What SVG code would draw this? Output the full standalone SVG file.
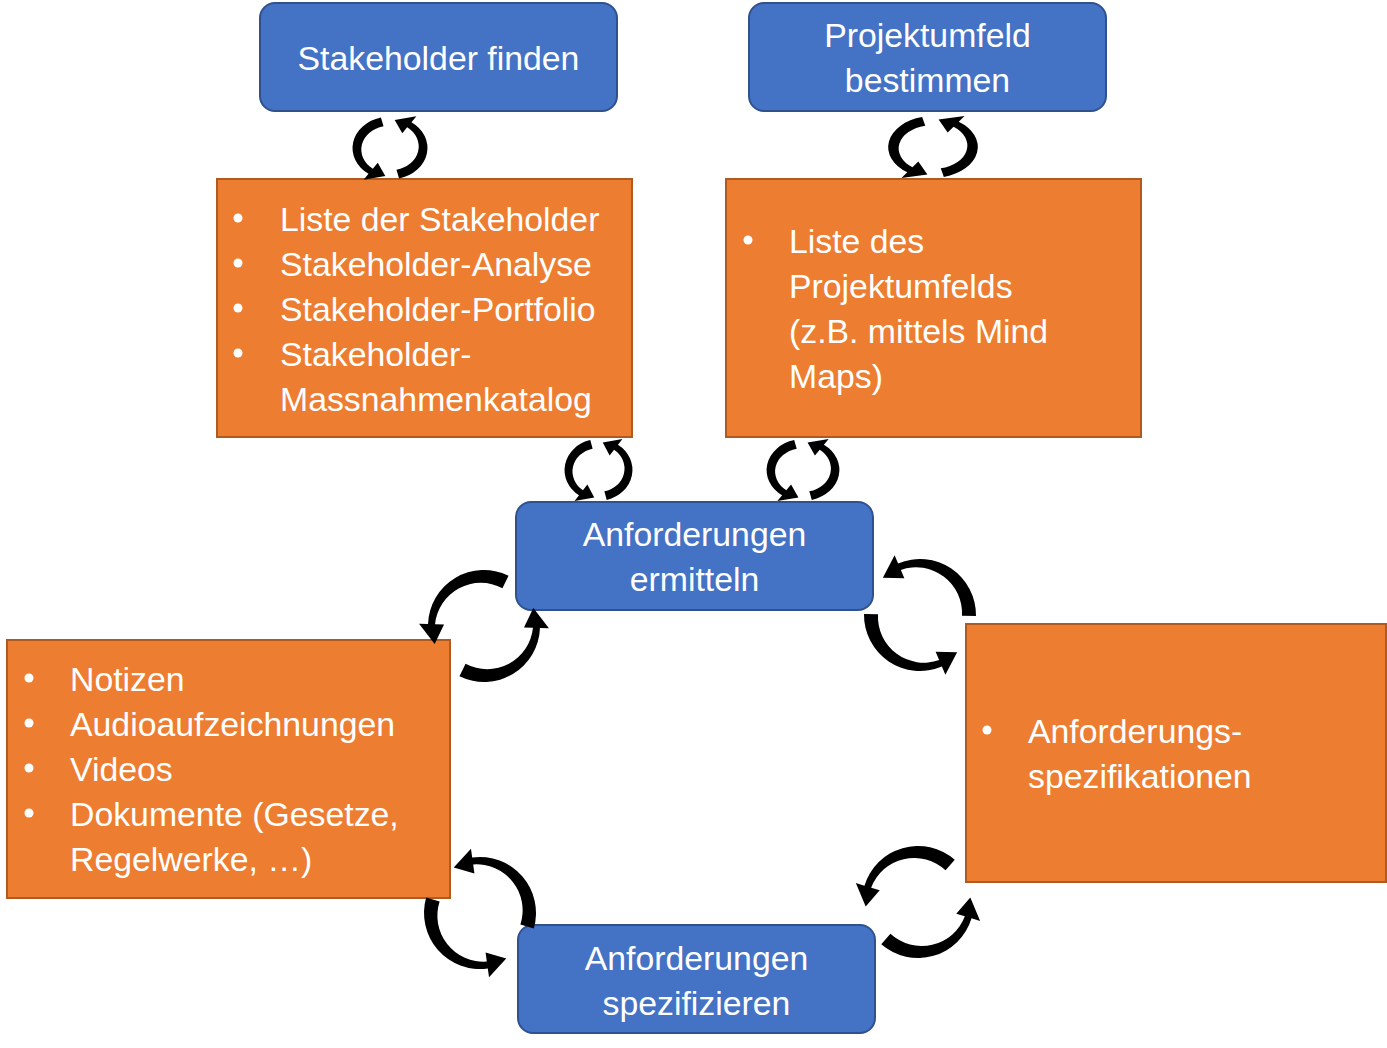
<svg xmlns="http://www.w3.org/2000/svg" xmlns:xlink="http://www.w3.org/1999/xlink" width="1387" height="1048" viewBox="0 0 1387 1048">
<style>
.blue{fill:#4472C4;stroke:#2F528F;stroke-width:2}
.orange{fill:#ED7D31;stroke:#AE5A21;stroke-width:2}
.t{font-family:"Liberation Sans",Arial,sans-serif;font-size:33.8px;fill:#FFFFFF}
.c{text-anchor:middle}
.b{fill:#FFFFFF}
.ar{fill:#000000}
</style>
<defs>
<g id="cs">
<path class="ar" d="M-8.47,-33.96 A35,35 0 0 0 -20.08,28.67 L-24.66,35.22 L-4.38,31.19 L-11.47,16.38 L-16.06,22.94 A26.5,26.5 0 0 1 -6.05,-24.26 Z"/>
<path class="ar" d="M8.47,33.96 A35,35 0 0 0 20.08,-28.67 L24.66,-35.22 L4.38,-31.19 L11.47,-16.38 L16.06,-22.94 A26.5,26.5 0 0 1 6.05,24.26 Z"/>
</g>
<g id="cd">
<path class="ar" d="M-22.78,-51.16 A56,56 0 0 0 -37.47,41.62 L-43.49,48.3 L-17.96,49.33 L-26.77,29.73 L-32.79,36.41 A46,46 0 0 1 -17.08,-38.37 Z"/>
<path class="ar" d="M22.78,51.16 A56,56 0 0 0 37.47,-41.62 L43.49,-48.3 L17.96,-49.33 L26.77,-29.73 L32.79,-36.41 A46,46 0 0 1 17.08,38.37 Z"/>
</g>
</defs>

<g id="node-stakeholder-finden">
<rect class="blue" x="260" y="3" width="357" height="108" rx="15"/>
<text class="t c" x="438.5" y="70">Stakeholder finden</text>
</g>
<g id="node-projektumfeld-bestimmen">
<rect class="blue" x="749" y="3" width="357" height="108" rx="15"/>
<text class="t c" x="927.5" y="47">Projektumfeld</text>
<text class="t c" x="927.5" y="92">bestimmen</text>
</g>
<g id="node-stakeholder-liste">
<rect class="orange" x="217" y="179" width="415" height="258"/>
<circle class="b" cx="238" cy="218" r="4.5"/>
<circle class="b" cx="238" cy="263" r="4.5"/>
<circle class="b" cx="238" cy="308" r="4.5"/>
<circle class="b" cx="238" cy="353" r="4.5"/>
<text class="t" x="280" y="231">Liste der Stakeholder</text>
<text class="t" x="280" y="276">Stakeholder-Analyse</text>
<text class="t" x="280" y="321">Stakeholder-Portfolio</text>
<text class="t" x="280" y="366">Stakeholder-</text>
<text class="t" x="280" y="411">Massnahmenkatalog</text>
</g>
<g id="node-projektumfeld-liste">
<rect class="orange" x="726" y="179" width="415" height="258"/>
<circle class="b" cx="748" cy="240" r="4.5"/>
<text class="t" x="789" y="253">Liste des</text>
<text class="t" x="789" y="298">Projektumfelds</text>
<text class="t" x="789" y="343">(z.B. mittels Mind</text>
<text class="t" x="789" y="388">Maps)</text>
</g>
<g id="node-anforderungen-ermitteln">
<rect class="blue" x="516" y="502" width="357" height="108" rx="15"/>
<text class="t c" x="694.5" y="546">Anforderungen</text>
<text class="t c" x="694.5" y="591">ermitteln</text>
</g>
<g id="node-notizen">
<rect class="orange" x="7" y="640" width="443" height="258"/>
<circle class="b" cx="29" cy="678" r="4.5"/>
<circle class="b" cx="29" cy="723" r="4.5"/>
<circle class="b" cx="29" cy="768" r="4.5"/>
<circle class="b" cx="29" cy="813" r="4.5"/>
<text class="t" x="70" y="691">Notizen</text>
<text class="t" x="70" y="736">Audioaufzeichnungen</text>
<text class="t" x="70" y="781">Videos</text>
<text class="t" x="70" y="826">Dokumente (Gesetze,</text>
<text class="t" x="70" y="871">Regelwerke, …)</text>
</g>
<g id="node-anforderungsspezifikationen">
<rect class="orange" x="966" y="624" width="420" height="258"/>
<circle class="b" cx="987" cy="730" r="4.5"/>
<text class="t" x="1028" y="743">Anforderungs-</text>
<text class="t" x="1028" y="788">spezifikationen</text>
</g>
<g id="node-anforderungen-spezifizieren">
<rect class="blue" x="518" y="925" width="357" height="108" rx="15"/>
<text class="t c" x="696.5" y="970">Anforderungen</text>
<text class="t c" x="696.5" y="1015">spezifizieren</text>
</g>

<g id="connectors">
<use xlink:href="#cs" transform="translate(390,148) scale(1.07,0.9)"/>
<use xlink:href="#cs" transform="translate(933,147) scale(1.28,0.88)"/>
<use xlink:href="#cs" transform="translate(598.5,470) scale(0.97,0.88)"/>
<use xlink:href="#cs" transform="translate(803,470) scale(1.04,0.88)"/>
<use xlink:href="#cd" transform="translate(484,626) rotate(50)"/>
<use xlink:href="#cd" transform="translate(920,615) rotate(115)"/>
<use xlink:href="#cd" transform="translate(480,913) rotate(130)"/>
<use xlink:href="#cd" transform="translate(918,902) rotate(65)"/>
</g>
</svg>
